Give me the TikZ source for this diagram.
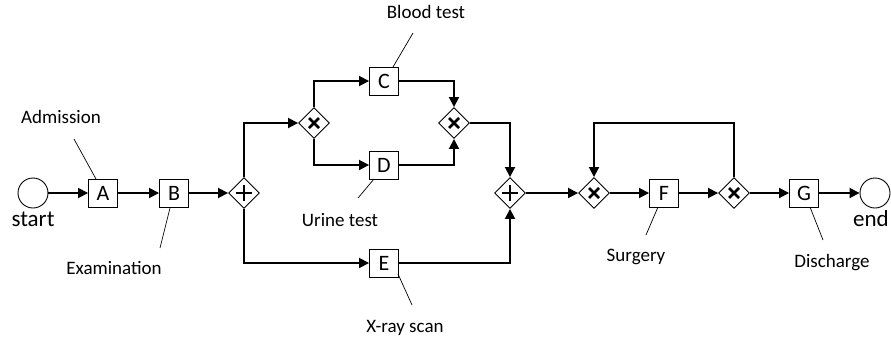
\documentclass[tikz,border=0pt]{standalone}
\usepackage{fontspec}
\setmainfont{Carlito}
\usetikzlibrary{shapes.geometric,arrows.meta}
\tikzset{
  task/.style={draw,line width=0.9pt,minimum width=29pt,minimum height=28pt,inner sep=0pt,font=\fontsize{22}{22}\selectfont},
  gw/.style={draw,diamond,line width=0.9pt,minimum width=31pt,minimum height=31pt,inner sep=0pt},
  evt/.style={draw,circle,line width=0.9pt,minimum size=30pt,inner sep=0pt},
  flow/.style={line width=1.8pt,-{Triangle[length=10pt,width=10pt]}},
  note/.style={line width=0.7pt},
  lbl/.style={font=\fontsize{19}{19}\selectfont,inner sep=0pt},
  big/.style={font=\fontsize{23}{23}\selectfont,inner sep=0pt},
  andsym/.style={line width=2.6pt},
  xorsym/.style={line width=2.6pt}
}
\newcommand{\andmark}[1]{\draw[andsym] ([xshift=-8pt]#1.center) -- ([xshift=8pt]#1.center) ([yshift=-8pt]#1.center) -- ([yshift=8pt]#1.center);}
\newcommand{\xormark}[1]{\draw[xorsym] ([shift={(-5pt,-5pt)}]#1.center) -- ([shift={(5pt,5pt)}]#1.center) ([shift={(-5pt,5pt)}]#1.center) -- ([shift={(5pt,-5pt)}]#1.center);}
\begin{document}
\begin{tikzpicture}[x=1pt,y=-1pt]
\useasboundingbox (0,0) rectangle (891,341);
\node[evt] (start) at (33,193) {};
\node[task] (A) at (103,193) {A};
\node[task] (B) at (174,193) {B};
\node[gw] (g1) at (244,193) {};
\node[gw] (x1) at (314,123) {};
\node[task] (C) at (384,81) {C};
\node[gw] (x2) at (454,123) {};
\node[task] (D) at (384,165) {D};
\node[task] (E) at (384,263) {E};
\node[gw] (g2) at (510,193) {};
\node[gw] (x3) at (594,193) {};
\node[task] (F) at (664,193) {F};
\node[gw] (x4) at (734,193) {};
\node[task] (G) at (804,193) {G};
\node[evt] (end) at (875,193) {};
\andmark{g1}\andmark{g2}
\xormark{x1}\xormark{x2}\xormark{x3}\xormark{x4}
\coordinate (lp) at (594,123);
\draw[flow] (start) -- (A);
\draw[flow] (A) -- (B);
\draw[flow] (B) -- (g1);
\draw[flow] (g1.north) |- (x1.west);
\draw[flow] (g1.south) |- (E.west);
\draw[flow] (x1.north) |- (C.west);
\draw[flow] (x1.south) |- (D.west);
\draw[flow] (C.east) -| (x2.north);
\draw[flow] (D.east) -| (x2.south);
\draw[flow] (x2.east) -| (g2.north);
\draw[flow] (E.east) -| (g2.south);
\draw[flow] (g2) -- (x3);
\draw[flow] (x3) -- (F);
\draw[flow] (F) -- (x4);
\draw[flow] (x4) -- (G);
\draw[flow] (G) -- (end);
\draw[flow] (x4.north) |- (lp) -- (x3.north);
% labels
\node[big] (ls) at (33,219) {start};
\node[big,anchor=east] (le) at (889,219) {end};
\node[lbl] (l1) at (61,117) {Admission};
\node[lbl] (l2) at (114,268) {Examination};
\node[lbl] (l3) at (426,12) {Blood test};
\node[lbl] (l4) at (340,220) {Urine test};
\node[lbl] (l5) at (405,328) {X-ray scan};
\node[lbl] (l6) at (636,257) {Surgery};
\node[lbl] (l7) at (832,263) {Discharge};
\coordinate (a1) at (74,139); \coordinate (a2) at (96,179);
\coordinate (b1) at (170,208); \coordinate (b2) at (160,248);
\coordinate (c1) at (413,33); \coordinate (c2) at (393,67);
\coordinate (d1) at (374,179); \coordinate (d2) at (358,198);
\coordinate (e1) at (398,274); \coordinate (e2) at (412,305);
\coordinate (f1) at (658,207); \coordinate (f2) at (646,235);
\coordinate (h1) at (810,207); \coordinate (h2) at (823,240);
\draw[note] (a1) -- (a2);
\draw[note] (b1) -- (b2);
\draw[note] (c1) -- (c2);
\draw[note] (d1) -- (d2);
\draw[note] (e1) -- (e2);
\draw[note] (f1) -- (f2);
\draw[note] (h1) -- (h2);
\end{tikzpicture}
\end{document}
